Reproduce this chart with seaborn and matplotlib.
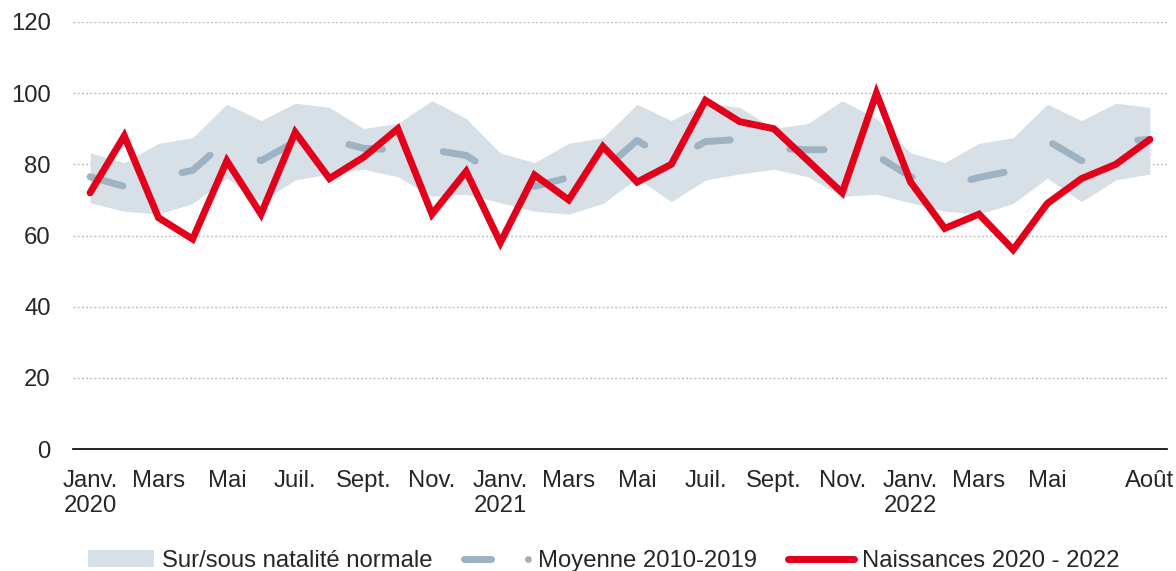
import numpy as np
import pandas as pd
import matplotlib
matplotlib.use("Agg")
import matplotlib.pyplot as plt
from matplotlib.lines import Line2D
from matplotlib.patches import Patch
import seaborn as sns

# Naissances mensuelles (janv. 2020 - août 2022)
naissances = [72, 88, 65, 59, 81, 66, 89, 76, 82, 90, 66, 78,
              58, 77, 70, 85, 75, 80, 98, 92, 90, 81, 72, 100,
              75, 62, 66, 56, 69, 76, 80, 87]
# moyenne 2010-2019 du mois correspondant
moyenne = [76.5, 73.8, 76.3, 78.3, 86.7, 81.0, 86.4, 87.0, 84.5, 84.1, 84.1, 82.5,
           76.5, 73.8, 76.3, 78.3, 86.7, 81.0, 86.4, 87.0, 84.5, 84.1, 84.1, 82.5,
           76.5, 73.8, 76.3, 78.3, 86.7, 81.0, 86.4, 87.0]
bande_haut = [83.2, 80.5, 85.9, 87.5, 96.9, 92.3, 97.2, 96.0, 90.1, 91.5, 97.9, 92.9,
              83.2, 80.5, 85.9, 87.5, 96.9, 92.3, 97.2, 96.0, 90.1, 91.5, 97.9, 92.9,
              83.2, 80.5, 85.9, 87.5, 96.9, 92.3, 97.2, 96.0]
bande_bas = [69.2, 66.8, 66.0, 69.0, 76.1, 69.5, 75.6, 77.3, 78.6, 76.5, 71.0, 71.6,
             69.2, 66.8, 66.0, 69.0, 76.1, 69.5, 75.6, 77.3, 78.6, 76.5, 71.0, 71.6,
             69.2, 66.8, 66.0, 69.0, 76.1, 69.5, 75.6, 77.3]
tick_pos = [0, 2, 4, 6, 8, 10, 12, 14, 16, 18, 20, 22, 24, 26, 28, 31]
tick_labels = ["Janv.\n2020", "Mars", "Mai", "Juil.", "Sept.", "Nov.",
               "Janv.\n2021", "Mars", "Mai", "Juil.", "Sept.", "Nov.",
               "Janv.\n2022", "Mars", "Mai", "Août"]

df = pd.DataFrame({"mois": np.arange(len(naissances)),
                   "naissances": naissances, "moyenne": moyenne,
                   "haut": bande_haut, "bas": bande_bas})

sns.set_style("white")
plt.rcParams["font.family"] = ["Liberation Sans", "DejaVu Sans"]
plt.rcParams["lines.scale_dashes"] = False

band_col = "#d7e0e7"
mean_col = "#9db2c2"
red = "#e2001a"
fs = 17.2

fig = plt.figure(figsize=(11.76, 5.71), dpi=100)
ax = fig.add_axes([73/1176, 1-449/571, (1167-73)/1176, (449-22)/571])

ax.fill_between(df["mois"], df["bas"], df["haut"], color=band_col, lw=0, zorder=1)
sns.lineplot(data=df, x="mois", y="moyenne", ax=ax, color=mean_col, lw=5,
             linestyle=(0, (24.5, 43.8)), dash_capstyle="round", zorder=2)
sns.lineplot(data=df, x="mois", y="naissances", ax=ax, color=red, lw=5,
             solid_joinstyle="miter", solid_capstyle="round", zorder=3)

ax.set_xlim(-0.5, 31.5)
ax.set_ylim(0, 120)
ax.set_yticks(range(0, 121, 20))
ax.yaxis.grid(True, color="#bdbdbd", lw=1, linestyle=(0, (1.5, 1.5)))
ax.set_axisbelow(True)
for g in ax.get_ygridlines()[:1]:
    g.set_visible(False)

ax.set_xticks(tick_pos)
ax.set_xticklabels(tick_labels, fontsize=fs, linespacing=1.2)
ax.set_xticks(np.arange(-0.5, 32, 1), minor=True)
ax.tick_params(axis="x", which="major", length=0, pad=15)
ax.tick_params(axis="x", which="minor", direction="in", length=6, width=1.2, color="black")
ax.tick_params(axis="y", length=0, pad=16, labelsize=fs)
ax.set_xlabel("")
ax.set_ylabel("")

for s in ["top", "right", "left"]:
    ax.spines[s].set_visible(False)
ax.spines["bottom"].set_color("black")
ax.spines["bottom"].set_linewidth(1.2)

handles = [
    Patch(facecolor=band_col, edgecolor="none"),
    Line2D([], [], color=mean_col, lw=5, linestyle=(0, (19.5, 26.5, 0.01, 60)),
           dash_capstyle="round"),
    Line2D([], [], color=red, lw=5, solid_capstyle="round"),
]
labels = ["Sur/sous natalité normale", "Moyenne 2010-2019", "Naissances 2020 - 2022"]
fig.legend(handles, labels, loc="center", bbox_to_anchor=(604/1176, 10/571),
           ncol=3, frameon=False, fontsize=fs, handlelength=2.75,
           handletextpad=0.35, columnspacing=1.3, borderpad=0, borderaxespad=0)

fig.savefig("out.png", dpi=100)
